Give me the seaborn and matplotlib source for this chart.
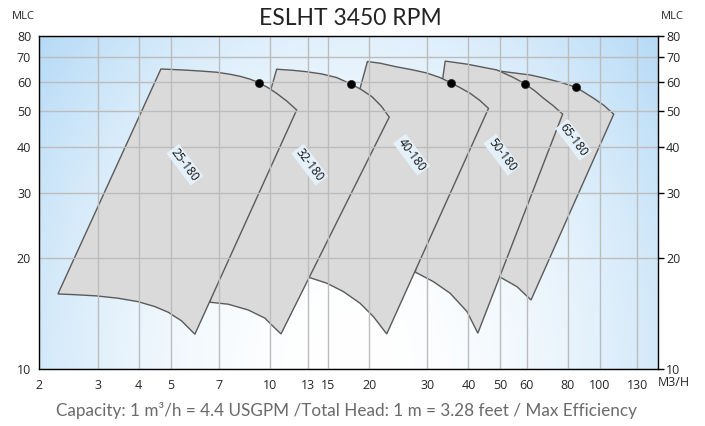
import numpy as np
import matplotlib
matplotlib.use("Agg")
import matplotlib.pyplot as plt
from matplotlib.ticker import NullLocator
import seaborn as sns

# pump models
pumps = ["25-180", "32-180", "40-180", "50-180", "65-180"]

# top curve (max impeller), left -> right
top_q = [
    [4.67, 5.45, 6.13, 6.89, 7.56, 8.11, 8.70, 9.24, 9.88, 10.48, 11.24, 12.05],
    [10.48, 11.66, 12.92, 14.39, 15.94, 17.58, 18.89, 20.36, 21.73, 23.0],
    [19.75, 21.58, 23.97, 27.2, 29.87, 32.8, 35.4, 37.9, 40.5, 43.3, 46.0],
    [34.0, 39.6, 48.8, 54.8, 59.2, 63.4, 67.6, 72.4, 77.2],
    [48.8, 61.6, 68.4, 76.0, 84.8, 95.9, 103.0, 110.3],
]
top_h = [
    [65.1, 64.7, 64.3, 63.8, 63.0, 62.2, 61.1, 59.8, 57.9, 55.9, 53.3, 50.4],
    [65.0, 64.6, 64.0, 63.1, 61.7, 59.3, 57.3, 54.8, 51.7, 48.2],
    [68.2, 67.5, 66.1, 64.7, 63.5, 61.7, 59.7, 57.8, 55.9, 53.5, 50.9],
    [68.4, 67.1, 64.7, 61.7, 59.4, 56.9, 54.2, 51.7, 49.1],
    [64.4, 62.7, 61.4, 59.9, 58.1, 54.2, 51.85, 49.1],
]
# bottom curve (min impeller), left -> right
bot_q = [
    [2.275, 2.557, 2.977, 3.462, 3.982, 4.475, 4.911, 5.394, 5.92],
    [6.57, 7.47, 8.59, 9.66, 10.0, 10.8],
    [13.07, 14.87, 16.70, 18.76, 20.6, 22.6],
    [27.6, 31.3, 35.2, 39.6, 42.7],
    [49.9, 56.1, 61.9],
]
bot_h = [
    [15.97, 15.90, 15.78, 15.55, 15.22, 14.76, 14.25, 13.50, 12.42],
    [15.17, 14.98, 14.45, 13.73, 13.30, 12.44],
    [17.74, 17.08, 16.21, 15.07, 13.86, 12.44],
    [18.3, 17.25, 16.04, 14.3, 12.5],
    [17.74, 16.72, 15.38],
]

# max efficiency points
bep_q = [9.24, 17.58, 35.4, 59.2, 84.8]
bep_h = [59.8, 59.3, 59.7, 59.4, 58.1]

# label positions
label_q = [5.52, 13.2, 26.9, 50.5, 83.4]
label_h = [35.8, 35.8, 38.1, 38.1, 41.8]

x_ticks = [2, 3, 4, 5, 7, 10, 13, 15, 20, 30, 40, 50, 60, 80, 100, 130]
y_ticks = [10, 20, 30, 40, 50, 60, 70, 80]

sns.set_style("white")
plt.rcParams["font.family"] = ["Open Sans", "DejaVu Sans"]

fig = plt.figure(figsize=(7.05, 4.26), dpi=100)
ax = fig.add_axes([0.056, 0.134, 0.877, 0.7815])

# background gradient: white at bottom centre, light blue towards the sides/top
gx, gy = np.meshgrid(np.linspace(0, 1, 300), np.linspace(0, 1, 200))
u = (gx - 0.5) / 0.5
blend = np.clip(0.6 * u ** 2 + 0.4 * gy ** 2, 0, 1)
white = np.array([1.0, 1.0, 1.0])
blue = np.array([0.71, 0.855, 0.965])
img = white * (1 - blend[..., None]) + blue * blend[..., None]
ax.imshow(img, extent=[0, 1, 0, 1], transform=ax.transAxes, origin="lower",
          aspect="auto", zorder=0)

ax.set_xscale("log")
ax.set_yscale("log")
ax.set_xlim(2, 150)
ax.set_ylim(10, 80)

# polygons: right-most drawn first so the left ones sit on top
n = len(pumps)
for i in range(n - 1, -1, -1):
    xs = top_q[i] + bot_q[i][::-1]
    ys = top_h[i] + bot_h[i][::-1]
    ax.fill(xs, ys, facecolor="#dadada", edgecolor="#5a5a5a", linewidth=1,
            zorder=1 + 0.1 * (n - i))
    ax.text(label_q[i], label_h[i], pumps[i], rotation=-53, ha="center",
            va="center", fontsize=8.5, color="#111111", zorder=20,
            bbox=dict(boxstyle="square,pad=0.12", facecolor="#e6f3fc",
                      edgecolor="none", alpha=0.95))

sns.scatterplot(x=bep_q, y=bep_h, ax=ax, color="black", s=34,
                edgecolor="#222222", linewidth=0.5, zorder=30)

ax.set_xticks(x_ticks, [str(t) for t in x_ticks])
ax.set_yticks(y_ticks, [str(t) for t in y_ticks])
ax.xaxis.set_minor_locator(NullLocator())
ax.yaxis.set_minor_locator(NullLocator())
ax.grid(True, color="#bcbcbc", linewidth=1)
ax.set_axisbelow(False)
for gl in ax.get_xgridlines() + ax.get_ygridlines():
    gl.set_zorder(2.5)
ax.tick_params(axis="both", which="major", direction="out", length=4,
               width=1, color="black", labelsize=9)
ax.tick_params(axis="x", pad=3)
ax.tick_params(axis="y", pad=2, right=True, labelright=True)
for s in ax.spines.values():
    s.set_color("black")
    s.set_linewidth(1)
    s.set_zorder(5)

fig.text(0.497, 0.957, "ESLHT 3450 RPM", ha="center", va="center",
         fontsize=16.5, family=["Lato", "DejaVu Sans"], color="#222222")
fig.text(0.017, 0.962, "MLC", ha="left", va="center", fontsize=8)
fig.text(0.953, 0.962, "MLC", ha="center", va="center", fontsize=8)
fig.text(0.956, 0.101, "M3/H", ha="center", va="center", fontsize=9)
fig.text(0.491, 0.037,
         "Capacity: 1 m\u00b3/h = 4.4 USGPM /Total Head: 1 m = 3.28 feet / Max Efficiency",
         ha="center", va="center", fontsize=12.3, color="#6a6a6a",
         family=["Lato", "DejaVu Sans"])

fig.savefig("out.png", dpi=100)
